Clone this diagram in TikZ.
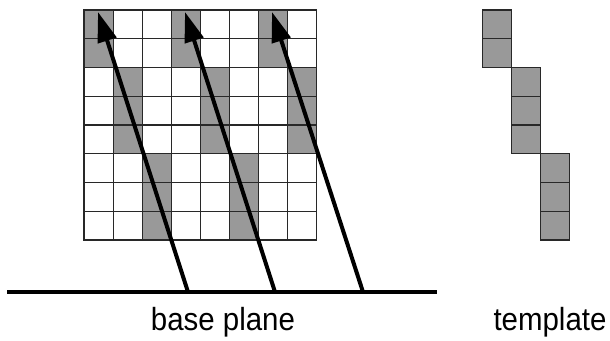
\documentclass[tikz,border=0pt]{standalone}
\usepackage{fontspec}
\setmainfont{Liberation Sans}
\usetikzlibrary{arrows.meta}
\definecolor{cellgray}{RGB}{153,153,153}
\definecolor{gridline}{RGB}{40,40,40}
\tikzset{
  cellbox/.style={draw=gridline, line width=1.1pt},
  shaded/.style={cellbox, fill=cellgray},
  ray/.style={line width=4pt, -{Triangle[length=30pt,width=19pt]}},
  baseline/.style={line width=4.5pt},
  caption/.style={font=\fontsize{32}{38}\selectfont, anchor=base, inner sep=0pt}
}
\begin{document}
\begin{tikzpicture}[x=1pt,y=-1pt]
\useasboundingbox (0,0) rectangle (610,340);
\def\cw{29.1}
\def\ch{28.75}
% main grid
\foreach \c in {0,...,7}{
  \foreach \r in {0,...,7}{
    \draw[cellbox] ({84+\c*\cw},{10+\r*\ch}) rectangle ++(\cw,\ch);
  }
}
% shaded cells
\foreach \c/\r in {0/0,0/1,1/2,1/3,1/4,2/5,2/6,2/7,
                   3/0,3/1,4/2,4/3,4/4,5/5,5/6,5/7,
                   6/0,6/1,7/2,7/3,7/4}{
  \draw[shaded] ({84+\c*\cw},{10+\r*\ch}) rectangle ++(\cw,\ch);
}
% template
\foreach \c/\r in {0/0,0/1,1/2,1/3,1/4,2/5,2/6,2/7}{
  \draw[shaded] ({482.5+\c*\cw},{10+\r*\ch}) rectangle ++(\cw,\ch);
}
% base plane
\coordinate (bl) at (7,292);
\coordinate (br) at (437,292);
\draw[baseline] (bl) -- (br);
% rays
\coordinate (s1) at (188,292);
\coordinate (s2) at (275,292);
\coordinate (s3) at (363,292);
\coordinate (t1) at (98,12);
\coordinate (t2) at (185,12);
\coordinate (t3) at (272,12);
\draw[ray] (s1) -- (t1);
\draw[ray] (s2) -- (t2);
\draw[ray] (s3) -- (t3);
% labels
\node[caption] (bp) at (223,330) {\scalebox{0.92}[1]{base plane}};
\node[caption] (tp) at (550,330) {\scalebox{0.92}[1]{template}};
\end{tikzpicture}
\end{document}
